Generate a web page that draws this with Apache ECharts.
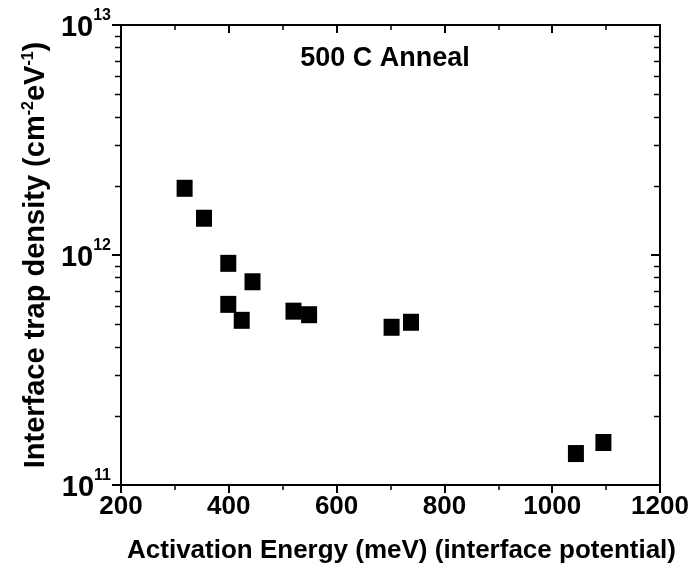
<!DOCTYPE html>
<html>
<head>
<meta charset="utf-8">
<script src="https://cdn.jsdelivr.net/npm/echarts@6/dist/echarts.min.js"></script>
<style>html,body{margin:0;padding:0;background:#fff}#c{width:690px;height:570px}</style>
</head>
<body>
<div id="c"></div>
<script>
const energy = [318, 354, 399, 444, 399, 424, 520, 549, 702, 738, 1044, 1095];
const density = [1.95e12, 1.445e12, 9.2e11, 7.65e11, 6.1e11, 5.2e11, 5.7e11, 5.5e11, 4.85e11, 5.1e11, 1.37e11, 1.53e11];
const xTickValues = [200, 400, 600, 800, 1000, 1200];
const yTickExponents = [11, 12, 13];
const minorDecadeSteps = [2, 3, 4, 5, 6, 7, 8, 9];
const annotation = '500 C Anneal';

const FONT = '"Liberation Sans", Arial, sans-serif';
const minorVals = [];
[11, 12].forEach(e => minorDecadeSteps.forEach(m => minorVals.push(m * Math.pow(10, e))));

const chart = echarts.init(document.getElementById('c'), null, {renderer: 'canvas'});
const axisLineStyle = {color: '#000', width: 2};
chart.setOption({
  backgroundColor: '#fff',
  animation: false,
  grid: {left: 121, right: 30, top: 25, bottom: 85, containLabel: false, outerBoundsMode: 'none'},
  title: {
    text: annotation, left: 380, top: 40, textAlign: 'center',
    textStyle: {fontFamily: FONT, fontWeight: 'bold', fontSize: 27, color: '#000'}
  },
  xAxis: [{
    type: 'value', min: xTickValues[0], max: xTickValues[xTickValues.length - 1], interval: 200,
    position: 'bottom',
    name: 'Activation Energy (meV) (interface potential)',
    nameLocation: 'middle', nameGap: 53,
    nameTextStyle: {fontFamily: FONT, fontWeight: 'bold', fontSize: 26, color: '#000', padding: [0, 0, 0, 22]},
    axisLine: {lineStyle: axisLineStyle},
    axisTick: {show: true, inside: false, length: 8, lineStyle: {color: '#000', width: 2}},
    minorTick: {show: true, splitNumber: 2, length: 5, lineStyle: {color: '#000', width: 1.5}},
    axisLabel: {fontFamily: FONT, fontWeight: 'bold', fontSize: 26, color: '#000', margin: 9,
      formatter: v => String(v)},
    splitLine: {show: false}
  }, {
    type: 'value', min: xTickValues[0], max: xTickValues[xTickValues.length - 1], interval: 200,
    position: 'top',
    axisLine: {lineStyle: axisLineStyle},
    axisTick: {show: true, inside: true, length: 8, lineStyle: {color: '#000', width: 2}},
    minorTick: {show: true, splitNumber: 2, length: 5, lineStyle: {color: '#000', width: 1.5}},
    axisLabel: {show: false},
    splitLine: {show: false}
  }],
  yAxis: [{
    type: 'log', logBase: 10, min: Math.pow(10, yTickExponents[0]), max: Math.pow(10, yTickExponents[yTickExponents.length - 1]),
    position: 'left',
    name: 'Interface trap density (cm{s|-2}eV{s|-1})',
    nameLocation: 'middle', nameGap: 71,
    nameTextStyle: {fontFamily: FONT, fontWeight: 'bold', fontSize: 29, color: '#000',
      rich: {s: {fontFamily: FONT, fontWeight: 'bold', fontSize: 16, color: '#000', verticalAlign: 'top', padding: [0, 0, 13, 0]}}},
    axisLine: {show: true, lineStyle: axisLineStyle},
    axisTick: {show: true, inside: false, length: 9, lineStyle: {color: '#000', width: 2}},
    axisLabel: {
      margin: 10,
      formatter: v => '{b|10}{s|' + Math.round(Math.log10(v)) + '}',
      rich: {
        b: {fontFamily: FONT, fontWeight: 'bold', fontSize: 29, color: '#000', padding: [6, 0, 0, 0]},
        s: {fontFamily: FONT, fontWeight: 'bold', fontSize: 16, color: '#000', verticalAlign: 'top', padding: [0, 0, 10, 0]}
      }
    },
    splitLine: {show: false}
  }, {
    type: 'log', logBase: 10, min: Math.pow(10, yTickExponents[0]), max: Math.pow(10, yTickExponents[yTickExponents.length - 1]),
    position: 'right',
    axisLine: {show: true, lineStyle: axisLineStyle},
    axisTick: {show: true, inside: true, length: 9, lineStyle: {color: '#000', width: 2}},
    axisLabel: {show: false},
    splitLine: {show: false}
  }],
  series: [{
    type: 'scatter', xAxisIndex: 0, yAxisIndex: 0,
    symbol: 'rect', symbolSize: [16, 17],
    itemStyle: {color: '#000', opacity: 1},
    data: energy.map((e, i) => [e, density[i]])
  }, {
    type: 'custom', xAxisIndex: 0, yAxisIndex: 0, silent: true,
    data: minorVals.map(v => [xTickValues[0], v]),
    renderItem: function (params, api) {
      const p = api.coord([api.value(0), api.value(1)]);
      const cs = params.coordSys;
      const y = Math.round(p[1]) + 0.5;
      return {
        type: 'group',
        children: [
          {type: 'line', shape: {x1: cs.x - 6, y1: y, x2: cs.x, y2: y}, style: {stroke: '#000', lineWidth: 1.5}},
          {type: 'line', shape: {x1: cs.x + cs.width - 6, y1: y, x2: cs.x + cs.width, y2: y}, style: {stroke: '#000', lineWidth: 1.5}}
        ]
      };
    }
  }]
});
</script>
</body>
</html>
